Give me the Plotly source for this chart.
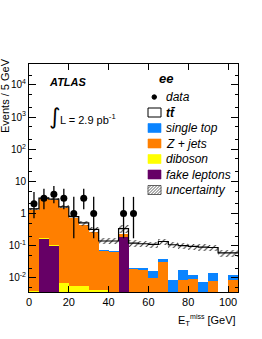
import plotly.graph_objects as go

# ---------------- data ----------------
bin_width = 5
bin_lo = [0, 5, 10, 15, 20, 25, 30, 35, 40, 45, 50, 55, 60, 65, 70, 75, 80, 85, 90, 95, 100]

data_counts = [2, 3, 4, 3, 1, 3, 1, 0, 0, 1, 1, 0, 0, 0, 0, 0, 0, 0, 0, 0, 0]
data_err_up = [2.64, 2.92, 3.16, 2.92, 2.30, 2.92, 2.30, 0, 0, 2.30, 2.30, 0, 0, 0, 0, 0, 0, 0, 0, 0, 0]
data_err_dn = [1.29, 1.63, 1.91, 1.63, 0.83, 1.63, 0.83, 0, 0, 0.83, 0.83, 0, 0, 0, 0, 0, 0, 0, 0, 0, 0]

fake_leptons = [0, 0.17, 0.10, 0, 0, 0, 0, 0, 0, 0.19, 0, 0, 0, 0, 0, 0, 0, 0, 0, 0, 0]
diboson = [0.004, 0.007, 0.007, 0.007, 0.0054, 0.0054, 0.0042, 0.0041, 0, 0, 0, 0, 0, 0, 0, 0, 0, 0, 0, 0, 0]
z_jets = [1.33, 2.72, 2.59, 1.56, 0.765, 0.445, 0.276, 0.067, 0.066, 0.04, 0.019, 0.018, 0.0102, 0.031, 0, 0.0087, 0.0093, 0, 0.008, 0, 0.0087]
single_top = [0, 0, 0, 0, 0, 0, 0, 0.004, 0.002, 0, 0.001, 0.002, 0.0063, 0.007, 0.0087, 0.0093, 0.0031, 0.0077, 0.006, 0, 0.0033]
total_mc = [1.40, 3.0, 2.8, 1.62, 0.80, 0.51, 0.32, 0.14, 0.14, 0.34, 0.12, 0.115, 0.11, 0.135, 0.107, 0.10, 0.095, 0.09, 0.088, 0.06, 0.06]
unc_rel = [0.08, 0.06, 0.06, 0.1, 0.12, 0.18, 0.2, 0.2, 0.2, 0.25, 0.22, 0.22, 0.22, 0.2, 0.22, 0.22, 0.22, 0.22, 0.22, 0.25, 0.25]

y_tickvals = [0.01, 0.1, 1, 10, 100, 1000, 10000]
y_ticktext = ["10<sup>-2</sup>", "10<sup>-1</sup>", "1", "10", "10<sup>2</sup>", "10<sup>3</sup>", "10<sup>4</sup>"]
x_tickvals = [0, 20, 40, 60, 80, 100]

legend_labels = ["data", "tt\u0304", "single top", "Z + jets", "diboson", "fake leptons", "uncertainty"]

# ---------------- styles ----------------
FONT = "Liberation Sans, Arial, Helvetica, sans-serif"
C_ORANGE = "#ff7f00"
C_BLUE = "#0a84ff"
C_YELLOW = "#ffff00"
C_PURPLE = "#660066"

W, H = 262, 339
ML, MR, MT, MB = 29, 24, 64, 47
PW, PH = W - ML - MR, H - MT - MB


def px(xp):
    return (xp - ML) / PW


def py(yp):
    return (H - MB - yp) / PH


centers = [b + bin_width / 2 for b in bin_lo]
ttbar = [max(t - (f + d + z + s), 0) for t, f, d, z, s in zip(total_mc, fake_leptons, diboson, z_jets, single_top)]

fig = go.Figure()

for vals, col, name in [
    (fake_leptons, C_PURPLE, "fake"),
    (diboson, C_YELLOW, "diboson"),
    (z_jets, C_ORANGE, "zjets"),
    (single_top, C_BLUE, "stop"),
    (ttbar, "white", "ttbar"),
]:
    fig.add_trace(go.Bar(x=centers, y=vals, width=bin_width, marker=dict(color=col, line=dict(width=0)),
                         name=name, showlegend=False))

# uncertainty band (hatched)
unc_base = [t * (1 - u) for t, u in zip(total_mc, unc_rel)]
unc_h = [t * 2 * u for t, u in zip(total_mc, unc_rel)]
fig.add_trace(go.Bar(x=centers, y=unc_h, base=unc_base, width=bin_width,
                     marker=dict(color="rgba(0,0,0,0)", line=dict(width=0),
                                 pattern=dict(shape="/", fgcolor="#333333", bgcolor="rgba(0,0,0,0)",
                                              size=4, solidity=0.25)),
                     showlegend=False))

# total MC outline
edges = bin_lo + [bin_lo[-1] + bin_width]
fig.add_trace(go.Scatter(x=edges, y=total_mc + [total_mc[-1]], mode="lines", line=dict(shape="hv", color="black", width=1.2),
                         showlegend=False))

# data
dx = [c for c, n in zip(centers, data_counts) if n > 0]
dy = [n for n in data_counts if n > 0]
dup = [e for e, n in zip(data_err_up, data_counts) if n > 0]
ddn = [e for e, n in zip(data_err_dn, data_counts) if n > 0]
fig.add_trace(go.Scatter(x=dx, y=dy, mode="markers", marker=dict(color="black", size=7),
                         error_y=dict(type="data", array=dup, arrayminus=ddn, color="black", thickness=1.3, width=0),
                         showlegend=False))

# ---------------- manual legend ----------------
shapes = []
annotations = []
row_y = [97, 112.5, 128, 143.5, 159, 174.5, 190]
sx0, sx1, tx = 148, 161, 164
for i, (lab, yy) in enumerate(zip(legend_labels, row_y)):
    txt = "<b><i>%s</i></b>" % lab if i == 1 else "<i>%s</i>" % lab
    annotations.append(dict(x=px(tx), y=py(yy), xref="paper", yref="paper", text=txt,
                            showarrow=False, xanchor="left", yanchor="middle",
                            font=dict(family=FONT, size=12, color="black")))
    if i == 0:
        shapes.append(dict(type="circle", xref="paper", yref="paper", x0=px(152), x1=px(156.5), y0=py(99.3), y1=py(94.8),
                           fillcolor="black", line=dict(color="black", width=1)))
        continue
    fill = {1: "white", 2: C_BLUE, 3: C_ORANGE, 4: C_YELLOW, 5: C_PURPLE, 6: "white"}[i]
    lc = "black" if i in (1, 6) else fill
    shapes.append(dict(type="rect", xref="paper", yref="paper", x0=px(sx0), x1=px(sx1), y0=py(yy + 4.5), y1=py(yy - 4.5),
                       fillcolor=fill, line=dict(color=lc, width=1 if i == 1 else 0.6)))
    if i == 6:
        for k in range(-3, 5):
            x0 = sx0 + k * 3
            xa, ya = x0, yy + 4.5
            xb, yb = x0 + 9, yy - 4.5
            if xa < sx0:
                ya -= (sx0 - xa)
                xa = sx0
            if xb > sx1:
                yb += (xb - sx1)
                xb = sx1
            if xa < xb:
                shapes.append(dict(type="line", xref="paper", yref="paper", x0=px(xa), x1=px(xb), y0=py(ya), y1=py(yb),
                                   line=dict(color="#333333", width=0.8)))

annotations += [
    dict(x=px(47), y=py(82), xref="paper", yref="paper", text="<b><i>ATLAS</i></b>", showarrow=False,
         xanchor="left", yanchor="middle", font=dict(family=FONT, size=11, color="black")),
    dict(x=px(157), y=py(78), xref="paper", yref="paper", text="<b><i>ee</i></b>", showarrow=False,
         xanchor="left", yanchor="middle", font=dict(family=FONT, size=13, color="black")),
    dict(x=px(47), y=py(117), xref="paper", yref="paper", text="\u222B", showarrow=False,
         xanchor="left", yanchor="middle", font=dict(family="DejaVu Sans", size=22, color="black")),
    dict(x=px(58), y=py(119), xref="paper", yref="paper", text="L = 2.9 pb<sup>-1</sup>", showarrow=False,
         xanchor="left", yanchor="middle", font=dict(family=FONT, size=11, color="black")),
    dict(x=1.0, y=py(320), xref="paper", yref="paper",
         text="E<sub>T</sub><sup><span style='font-size:7px'>miss</span></sup> [GeV]", showarrow=False,
         xanchor="right", yanchor="middle", font=dict(family=FONT, size=11, color="black")),
    dict(x=px(5), y=py(96), xref="paper", yref="paper", text="Events / 5 GeV", showarrow=False, textangle=-90,
         xanchor="center", yanchor="middle", font=dict(family=FONT, size=11, color="black")),
]

fig.update_layout(
    template="none",
    width=W, height=H, margin=dict(l=ML, r=MR, t=MT, b=MB, autoexpand=False),
    paper_bgcolor="white", plot_bgcolor="white",
    barmode="stack", bargap=0, showlegend=False,
    font=dict(family=FONT, size=11, color="black"),
    shapes=shapes, annotations=annotations,
)
fig.update_xaxes(range=[0, 105], tickvals=x_tickvals, ticks="inside", ticklen=6, mirror="ticks", automargin=False,
                 showline=True, linecolor="black", linewidth=1, showgrid=False, zeroline=False,
                 tickfont=dict(family=FONT, size=11), tickcolor="black")
fig.update_yaxes(type="log", range=[-2.44, 4.65], tickvals=y_tickvals, ticktext=y_ticktext, automargin=False,
                 ticks="inside", ticklen=7, mirror="ticks", showline=True, linecolor="black", linewidth=1,
                 showgrid=False, zeroline=False, tickfont=dict(family=FONT, size=10), tickcolor="black", ticklabelstandoff=0,
                 minor=dict(ticks="inside", ticklen=3, showgrid=False, tickcolor="black"))

fig.write_html("out.html", config={"displayModeBar": False},
               post_script="document.body.style.margin='0';document.body.style.overflow='hidden';")
